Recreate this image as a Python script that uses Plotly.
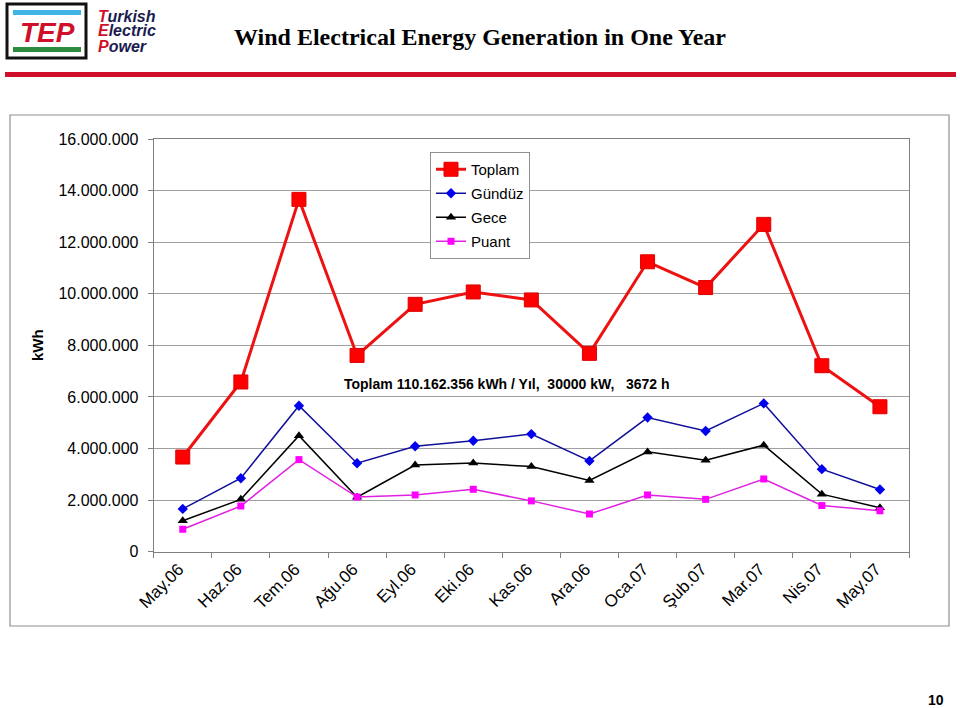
import plotly.graph_objects as go

# ---------------- data ----------------
months = ["May.06", "Haz.06", "Tem.06", "Ağu.06", "Eyl.06", "Eki.06", "Kas.06",
          "Ara.06", "Oca.07", "Şub.07", "Mar.07", "Nis.07", "May.07"]
toplam = [3.67e6, 6.58e6, 13.66e6, 7.61e6, 9.59e6, 10.07e6, 9.76e6,
          7.69e6, 11.24e6, 10.24e6, 12.69e6, 7.21e6, 5.62e6]
gunduz = [1.66e6, 2.85e6, 5.66e6, 3.43e6, 4.09e6, 4.30e6, 4.56e6,
          3.52e6, 5.20e6, 4.68e6, 5.75e6, 3.20e6, 2.41e6]
gece = [1.20e6, 2.03e6, 4.50e6, 2.11e6, 3.36e6, 3.44e6, 3.30e6,
        2.76e6, 3.87e6, 3.55e6, 4.13e6, 2.23e6, 1.70e6]
puant = [0.87e6, 1.77e6, 3.57e6, 2.12e6, 2.20e6, 2.42e6, 1.97e6,
         1.46e6, 2.20e6, 2.03e6, 2.82e6, 1.79e6, 1.59e6]
y_tickvals = [0, 2e6, 4e6, 6e6, 8e6, 10e6, 12e6, 14e6, 16e6]
y_ticktext = ["0", "2.000.000", "4.000.000", "6.000.000", "8.000.000",
              "10.000.000", "12.000.000", "14.000.000", "16.000.000"]

W, H = 960, 708
def px(x): return x / W
def py(y): return 1 - y / H

SANS = "Liberation Sans, Arial, sans-serif"

fig = go.Figure()
fig.add_trace(go.Scatter(x=months, y=toplam, name="Toplam", mode="lines+markers",
                         legendgroup="a",
                         line=dict(color="#ee1111", width=3),
                         marker=dict(symbol="square", size=14, color="#ff0000",
                                     line=dict(color="#dd0000", width=1))))
fig.add_trace(go.Scatter(x=months, y=gunduz, name="Gündüz", mode="lines+markers",
                         legendgroup="b",
                         line=dict(color="#10109a", width=1.5),
                         marker=dict(symbol="diamond", size=8, color="#0000ee")))
fig.add_trace(go.Scatter(x=months, y=gece, name="Gece", mode="lines+markers",
                         legendgroup="c",
                         line=dict(color="#000000", width=1.5),
                         marker=dict(symbol="triangle-up", size=9, color="#000000")))
fig.add_trace(go.Scatter(x=months, y=puant, name="Puant", mode="lines+markers",
                         legendgroup="d",
                         line=dict(color="#e020e0", width=1.5),
                         marker=dict(symbol="square", size=7, color="#ff00ff")))

def rect(x0, y0, x1, y1, fill, lc=None, lw=0):
    return dict(type="rect", xref="paper", yref="paper",
                x0=px(x0), x1=px(x1), y0=py(y1), y1=py(y0),
                fillcolor=fill, line=dict(color=lc or "rgba(0,0,0,0)", width=lw),
                layer="below")

shapes = [
    rect(5, 72, 956, 77, "#d0102a"),                      # red header bar
    rect(10, 115, 949, 626, "rgba(0,0,0,0)", "#909090", 1.2),  # outer chart box
    rect(7, 4, 86, 58, "white", "#111111", 3),            # logo box
    rect(13, 10, 81, 15, "#40b4e4"),
    rect(13, 47, 81, 52, "#2e8c40"),
]

annotations = [
    dict(x=px(47), y=py(32), text="<b><i>TEP</i></b>", showarrow=False,
         xref="paper", yref="paper", xanchor="center", yanchor="middle",
         font=dict(family=SANS, size=28, color="#d0102a")),
    dict(x=px(96), y=py(16), text="<b><i><span style='color:#d0102a'>T</span>urkish</i></b>",
         showarrow=False, xref="paper", yref="paper", xanchor="left", yanchor="middle",
         font=dict(family=SANS, size=16, color="#1c1c50")),
    dict(x=px(96), y=py(31), text="<b><i><span style='color:#d0102a'>E</span>lectric</i></b>",
         showarrow=False, xref="paper", yref="paper", xanchor="left", yanchor="middle",
         font=dict(family=SANS, size=16, color="#1c1c50")),
    dict(x=px(96), y=py(46), text="<b><i><span style='color:#d0102a'>P</span>ower</i></b>",
         showarrow=False, xref="paper", yref="paper", xanchor="left", yanchor="middle",
         font=dict(family=SANS, size=16, color="#1c1c50")),
    dict(x=px(480), y=py(37), text="<b>Wind Electrical Energy Generation in One Year</b>",
         showarrow=False, xref="paper", yref="paper", xanchor="center", yanchor="middle",
         font=dict(family="Liberation Serif, Times New Roman, serif", size=24, color="black")),
    dict(x=px(37), y=py(345), text="<b>kWh</b>", textangle=-90,
         showarrow=False, xref="paper", yref="paper", xanchor="center", yanchor="middle",
         font=dict(family=SANS, size=15, color="black")),
    dict(x=px(342), y=py(384),
         text="<b>Toplam 110.162.356 kWh / Yıl,\u00a0 30000 kW,\u00a0\u00a0 3672 h</b>",
         showarrow=False, xref="paper", yref="paper", xanchor="left", yanchor="middle",
         font=dict(family=SANS, size=14, color="black")),
    dict(x=px(936), y=py(700), text="<b>10</b>",
         showarrow=False, xref="paper", yref="paper", xanchor="center", yanchor="middle",
         font=dict(family=SANS, size=14, color="black")),
]

fig.update_layout(
    template="none",
    width=W, height=H,
    margin=dict(l=0, r=0, t=0, b=0, pad=0, autoexpand=False),
    paper_bgcolor="white", plot_bgcolor="white",
    showlegend=True,
    legend=dict(x=px(430), y=py(152), xanchor="left", yanchor="top",
                bgcolor="white", bordercolor="#909090", borderwidth=1,
                font=dict(family=SANS, size=15, color="black"),
                itemwidth=30, traceorder="grouped", tracegroupgap=1.5),
    shapes=shapes,
    annotations=annotations,
    xaxis=dict(domain=[px(153.7), px(909)], type="category", automargin=False,
               range=[-0.5, 12.5], showgrid=False, zeroline=False,
               showline=True, linecolor="#808080", linewidth=1, mirror=True,
               ticks="outside", ticklen=5, tickcolor="#808080", tickson="boundaries",
               tickangle=-45, ticklabelshift=-4,
               tickfont=dict(family=SANS, size=17, color="black")),
    yaxis=dict(domain=[py(551.7), py(139)], range=[0, 16e6], automargin=False,
               tickvals=y_tickvals, ticktext=y_ticktext,
               showgrid=True, gridcolor="#a0a0a0", gridwidth=1, zeroline=False,
               showline=True, linecolor="#808080", linewidth=1, mirror=True,
               ticks="outside", ticklen=5, tickcolor="#808080", ticklabelstandoff=6,
               tickfont=dict(family=SANS, size=16, color="black")),
)

fig.write_html("out.html", config={"displayModeBar": False},
               post_script="document.body.style.margin='0';document.body.style.overflow='hidden';")
